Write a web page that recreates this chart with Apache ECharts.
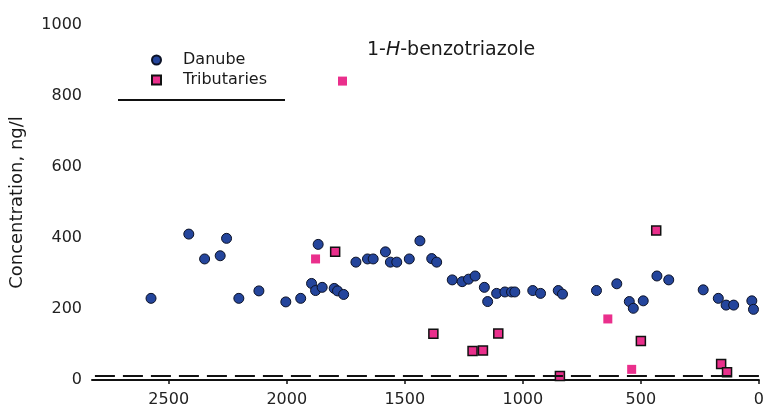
<!DOCTYPE html>
<html>
<head>
<meta charset="utf-8">
<script src="https://cdn.jsdelivr.net/npm/echarts@6/dist/echarts.min.js"></script>
<style>
  html, body { margin: 0; padding: 0; background: #fff; }
  #chart { width: 767px; height: 413px; }
</style>
</head>
<body>
<div id="chart"></div>
<script>
// River kilometre (distance from the mouth) and 1-H-benzotriazole concentration, ng/l
const danubeKm = [2575, 2415, 2348, 2282, 2255, 2203, 2118, 2004, 1941, 1895, 1878, 1867, 1850,
  1799, 1785, 1759, 1707, 1658, 1634, 1582, 1561, 1534, 1481, 1436, 1386, 1365, 1299, 1257,
  1230, 1202, 1163, 1149, 1111, 1076, 1048, 1034, 958, 925, 850, 832, 688, 602, 549, 532,
  490, 432, 382, 236, 172, 139, 107, 30, 23];
const danubeConc = [230, 411, 341, 350, 399, 230, 251, 220, 230, 272, 252, 382, 261,
  258, 251, 241, 332, 341, 341, 361, 332, 332, 341, 392, 342, 332, 282, 277,
  284, 293, 261, 221, 244, 248, 248, 248, 252, 244, 252, 242, 252, 271, 221, 202,
  223, 293, 282, 254, 230, 211, 211, 223, 199];

// Tributary samples drawn with an outline
const tributaryKm = [1795, 1379, 1213, 1169, 1104, 843, 500, 435, 160, 135];
const tributaryConc = [361, 130, 82, 83, 131, 11, 110, 421, 45, 22];
// Tributary samples drawn without an outline
const tributaryPlainKm = [1878, 1764, 640, 539];
const tributaryPlainConc = [341, 842, 172, 30];

// Axis ticks
const xTicks = { min: 0, max: 2825, step: 500 };
const yTicks = { min: 0, max: 1000, step: 200 };
const detectionLimit = 11;

const pairs = (xs, ys) => xs.map((x, i) => [x, ys[i]]);

const FONT = 'DejaVu Sans';
const chart = echarts.init(document.getElementById('chart'));

chart.setOption({
  animation: false,
  backgroundColor: '#ffffff',
  textStyle: { fontFamily: FONT },
  title: {
    text: '1-{i|H}-benzotriazole',
    left: 362,
    top: 36,
    textStyle: {
      fontFamily: FONT, fontSize: 19, fontWeight: 'normal', color: '#1a1a1a',
      rich: { i: { fontFamily: FONT, fontSize: 19, fontStyle: 'italic', color: '#1a1a1a' } }
    }
  },
  legend: {
    orient: 'vertical',
    left: 146,
    top: 47,
    itemWidth: 9,
    itemHeight: 9,
    itemGap: 4,
    data: [{ name: 'Danube', icon: 'circle' }, { name: 'Tributaries', icon: 'rect' }],
    textStyle: { fontFamily: FONT, fontSize: 16, color: '#1a1a1a', padding: [0, 0, 0, 17] }
  },
  grid: { left: 92, right: 0, top: 25, bottom: 33, containLabel: false },
  xAxis: {
    type: 'value',
    inverse: true,
    min: xTicks.min,
    max: xTicks.max,
    interval: xTicks.step,
    axisLine: { show: true, lineStyle: { color: '#111', width: 2 } },
    axisTick: { show: true, length: 4, lineStyle: { color: '#111', width: 1.5 } },
    axisLabel: { fontFamily: FONT, fontSize: 16, color: '#222', margin: 12,
      showMaxLabel: false, formatter: v => String(v) },
    splitLine: { show: false }
  },
  yAxis: {
    type: 'value',
    min: yTicks.min,
    max: yTicks.max,
    interval: yTicks.step,
    name: 'Concentration, ng/l',
    nameLocation: 'middle',
    nameGap: 66,
    nameTextStyle: { fontFamily: FONT, fontSize: 18, color: '#1a1a1a' },
    axisLine: { show: false },
    axisTick: { show: false },
    axisLabel: { fontFamily: FONT, fontSize: 16, color: '#222', margin: 10,
      formatter: v => String(v) },
    splitLine: { show: false }
  },
  graphic: [
    {
      type: 'line',
      shape: { x1: 118, y1: 100, x2: 285, y2: 100 },
      style: { stroke: '#111', lineWidth: 2 }
    }
  ],
  series: [
    {
      name: 'Danube',
      type: 'scatter',
      symbol: 'circle',
      symbolSize: 10,
      itemStyle: { color: '#24459c', borderColor: '#0c1226', borderWidth: 1, opacity: 1 },
      data: pairs(danubeKm, danubeConc),
      markLine: {
        silent: true,
        symbol: 'none',
        label: { show: false },
        lineStyle: { color: '#111', type: [20, 8], width: 2 },
        data: [{ yAxis: detectionLimit }]
      },
      z: 3
    },
    {
      name: 'Tributaries',
      type: 'scatter',
      symbol: 'rect',
      symbolSize: 9,
      itemStyle: { color: '#ea2f8c', borderColor: '#111', borderWidth: 1.5, opacity: 1 },
      data: pairs(tributaryKm, tributaryConc),
      z: 4
    },
    {
      name: 'Tributaries',
      type: 'scatter',
      symbol: 'rect',
      symbolSize: 9,
      itemStyle: { color: '#ea2f8c', borderWidth: 0, opacity: 1 },
      data: pairs(tributaryPlainKm, tributaryPlainConc),
      z: 4
    }
  ]
});
</script>
</body>
</html>
